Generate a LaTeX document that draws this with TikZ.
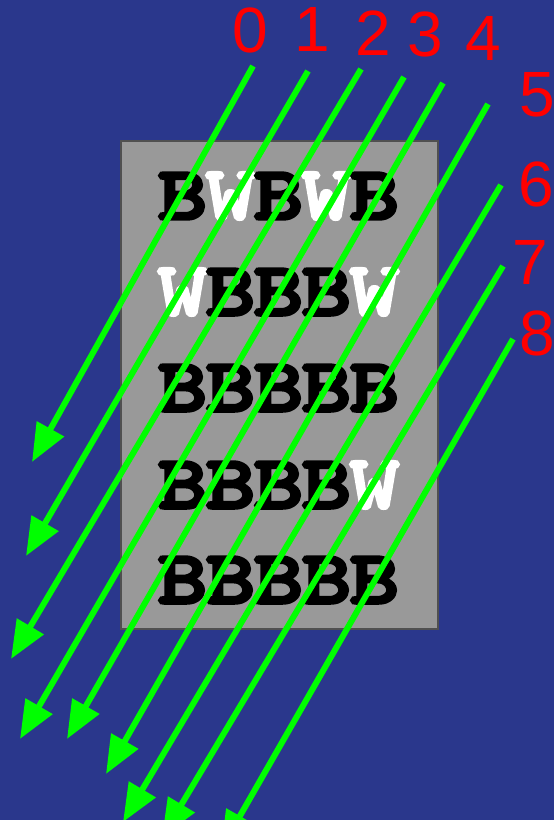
\documentclass[tikz,border=0pt]{standalone}
\usepackage{fontspec}
\setmainfont{Liberation Sans}
\newfontfamily\gridfont{lmmonolt10-bold.otf}[FakeBold=4,FakeStretch=1.25]
\usetikzlibrary{arrows.meta}
\definecolor{bg}{RGB}{42,55,140}
\definecolor{boxgray}{RGB}{153,153,153}
\definecolor{boxedge}{RGB}{80,80,80}
\definecolor{raygreen}{RGB}{0,255,0}
\definecolor{numred}{RGB}{255,0,0}
\def\wletter{W}
\begin{document}
\begin{tikzpicture}[x=1pt,y=-1pt,
  cell/.style={inner sep=0pt,font=\gridfont\fontsize{76}{76}\selectfont},
  blk/.style={cell,text=black},
  wht/.style={cell,text=white},
  num/.style={inner sep=0pt,text=numred,font=\fontsize{64}{64}\selectfont},
  ray/.style={draw=raygreen,line width=6pt,-{Triangle[length=38pt,width=30pt]}}]
\useasboundingbox (0,0) rectangle (554,820);
\clip (0,0) rectangle (554,820);
\fill[bg] (0,0) rectangle (554,820);
\node[draw=boxedge,fill=boxgray,line width=2pt,minimum width=317pt,minimum height=488pt,inner sep=0pt,anchor=north west] (board) at (120,140) {};
\foreach \row/\y/\pattern in {1/196/{B,W,B,W,B},2/292/{W,B,B,B,W},3/388/{B,B,B,B,B},4/485/{B,B,B,B,W},5/580/{B,B,B,B,B}} {
  \foreach \ch [count=\col] in \pattern {
    \pgfmathsetmacro{\xx}{182.5+48*(\col-1)}
    \ifx\ch\wletter
      \node[wht] (c\row\col) at (\xx,\y) {W};
    \else
      \node[blk] (c\row\col) at (\xx,\y) {B};
    \fi
  }
}
\node[num] (n0) at (250,30) {0};
\node[num] (n1) at (312,29) {1};
\node[num] (n2) at (373,33) {2};
\node[num] (n3) at (425,34) {3};
\node[num] (n4) at (483,38) {4};
\node[num] (n5) at (537,95) {5};
\node[num] (n6) at (536,184) {6};
\node[num] (n7) at (530,262) {7};
\node[num] (n8) at (537,333) {8};
\coordinate (s0) at (253,66);  \coordinate (e0) at (32,462);
\coordinate (s1) at (308,71);  \coordinate (e1) at (26,556);
\coordinate (s2) at (361,69);  \coordinate (e2) at (11,659);
\coordinate (s3) at (404,77);  \coordinate (e3) at (20,739);
\coordinate (s4) at (443,83);  \coordinate (e4) at (67,739);
\coordinate (s5) at (488,104); \coordinate (e5) at (106,774);
\coordinate (s6) at (501,185); \coordinate (e6) at (123,822);
\coordinate (s7) at (503,266); \coordinate (e7) at (162,837);
\coordinate (s8) at (513,339); \coordinate (e8) at (221,849);
\foreach \i in {0,...,8} {\draw[ray] (s\i) -- (e\i);}
\end{tikzpicture}
\end{document}
